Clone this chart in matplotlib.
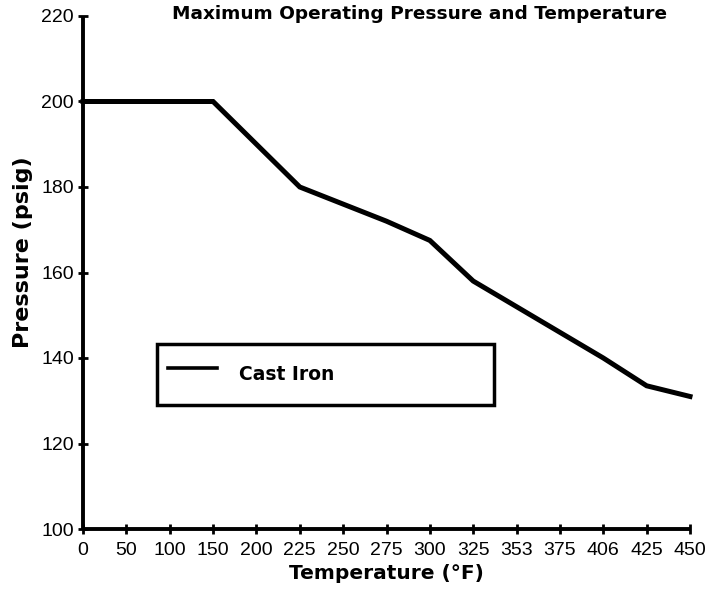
import matplotlib
matplotlib.use("Agg")
import matplotlib.pyplot as plt

# Data
temperature_labels = ["0", "50", "100", "150", "200", "225", "250", "275",
                      "300", "325", "353", "375", "406", "425", "450"]
cast_iron_pressure = [200, 200, 200, 200, 190, 180, 176, 172,
                      167.5, 158, 152, 146, 140, 133.5, 131]
y_ticks = [100, 120, 140, 160, 180, 200, 220]

title_text = "Maximum Operating Pressure and Temperature"
x_label = "Temperature (\u00b0F)"
y_label = "Pressure (psig)"
series_name = "Cast Iron"

BOLD = ["DejaVu Sans"]
REG = ["Liberation Sans", "DejaVu Sans"]

fig = plt.figure(figsize=(7.08, 5.89), dpi=100)
ax = fig.add_axes([83/708, 1-529/589, (690-83)/708, (529-16)/589])

xs = list(range(len(temperature_labels)))
ax.plot(xs, cast_iron_pressure, color="black", lw=3.6, label=series_name,
        solid_joinstyle="miter", clip_on=False)

ax.set_xlim(0, len(temperature_labels) - 1)
ax.set_ylim(100, 220)
ax.set_xticks(xs)
ax.set_xticklabels(temperature_labels)
ax.set_yticks(y_ticks)

for s in ["top", "right"]:
    ax.spines[s].set_visible(False)
for s in ["left", "bottom"]:
    ax.spines[s].set_linewidth(2.8)
    ax.spines[s].set_capstyle("butt")

ax.tick_params(axis="both", direction="inout", length=7, width=2, color="black",
               labelsize=14)
ax.tick_params(axis="x", pad=6)
ax.tick_params(axis="y", pad=3)
for lab in ax.get_xticklabels() + ax.get_yticklabels():
    lab.set_family(REG)

ax.set_xlabel(x_label, fontsize=14.5, fontweight="bold", family=BOLD)
ax.xaxis.set_label_coords(0.5, (529-564)/513)
ax.set_ylabel(y_label, fontsize=16, fontweight="bold", family=BOLD)
ax.yaxis.set_label_coords((33-83)/607, 0.54)

fig.text(419/708, 1-14/589, title_text, fontsize=13.3, fontweight="bold",
         family=BOLD, ha="center", va="center")

leg = ax.legend(loc="upper left",
                bbox_to_anchor=((157-83)/607, (529-344)/513, (494-157)/607, 0),
                mode="expand", borderaxespad=0, borderpad=0.6,
                handlelength=2.6, handleheight=2.8, handletextpad=1.17,
                fancybox=False, frameon=True, edgecolor="black",
                prop={"family": BOLD, "weight": "bold", "size": 13.5})
leg.get_frame().set_linewidth(2.5)
leg.get_frame().set_alpha(None)
for ln in leg.get_lines():
    ln.set_linewidth(2.6)

fig.savefig("out.png", dpi=100)
